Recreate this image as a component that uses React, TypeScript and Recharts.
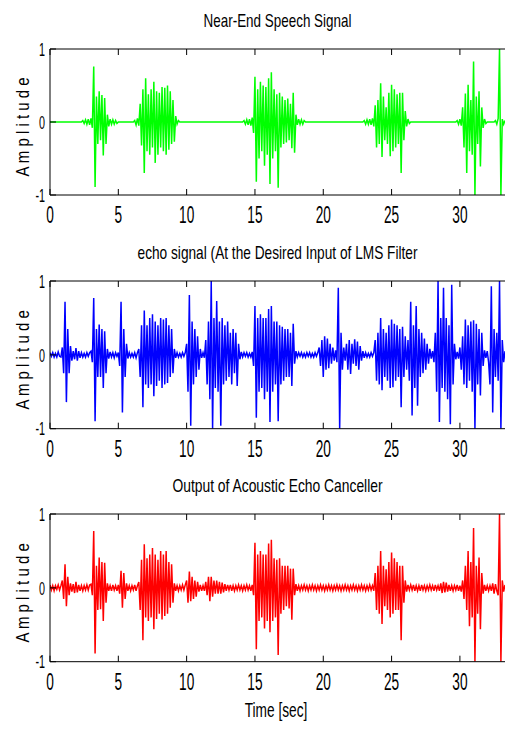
import React from 'react';
import { LineChart, Line, XAxis, YAxis } from 'recharts';

// one sample every 0.1 s, t = 0 .. 33.3 s
const SAMPLE_STEP = 0.1;
const X_TICKS = [0, 5, 10, 15, 20, 25, 30];
const Y_TICKS = [-1, 0, 1];
const X_DOMAIN: [number, number] = [0, 33.3];

const TITLES = [
  'Near-End Speech Signal',
  'echo signal (At the Desired Input of LMS Filter',
  'Output of Acoustic Echo Canceller',
];
const Y_LABEL = 'A m p l i t u d e';
const X_LABEL = 'Time [sec]';

const nearEnd: number[] = [
  0, 0, 0, 0, 0, 0, 0, 0, 0, 0,
  0, 0, 0, 0, 0, 0, 0, 0, 0, 0,
  0, 0, 0, 0, .02, -.02, .03, -.03, .04, -.04,
  .05, -.08, .76, -.89, .35, -.3, .42, -.25, .37, -.46,
  .33, -.3, .1, -.06, .04, -.03, .03, -.03, .02, -.02,
  0, 0, 0, 0, 0, 0, 0, 0, 0, 0,
  0, 0, .02, -.04, .05, -.05, .25, -.32, .45, -.7,
  .6, -.4, .38, -.45, .45, -.35, .55, -.56, .42, -.45,
  .4, -.35, .48, -.4, .47, -.45, .5, -.38, .42, -.3,
  .3, -.27, .08, -.03, .02, 0, 0, 0, 0, 0,
  0, 0, 0, 0, 0, 0, 0, 0, 0, 0,
  0, 0, 0, 0, 0, 0, 0, 0, 0, 0,
  0, 0, 0, 0, 0, 0, 0, 0, 0, 0,
  0, 0, 0, 0, 0, 0, 0, 0, 0, 0,
  0, 0, .02, -.03, .03, -.04, .04, -.05, .06, -.15,
  .62, -.82, .45, -.5, .55, -.4, .5, -.6, .48, -.45,
  .6, -.85, .68, -.5, .45, -.4, .38, -.9, .4, -.35,
  .35, -.3, .3, -.28, .32, -.25, .25, -.36, .4, -.42,
  .1, -.04, .04, -.03, .03, -.03, .02, 0, 0, 0,
  0, 0, 0, 0, 0, 0, 0, 0, 0, 0,
  0, 0, 0, 0, 0, 0, 0, 0, 0, 0,
  0, 0, 0, 0, 0, 0, 0, 0, 0, 0,
  0, 0, 0, 0, 0, 0, 0, 0, 0, 0,
  .02, -.03, .03, -.03, .04, -.04, .05, -.06, .23, -.35,
  .3, -.3, .53, -.48, .35, -.25, .2, -.3, .4, -.47,
  .51, -.4, .45, -.35, .38, -.3, .4, -.7, .4, -.25,
  .15, -.06, .04, -.02, 0, 0, 0, 0, 0, 0,
  0, 0, 0, 0, 0, 0, 0, 0, 0, 0,
  0, 0, 0, 0, 0, 0, 0, 0, 0, 0,
  0, 0, 0, 0, 0, 0, 0, 0, .02, -.03,
  .04, -.05, .2, -.35, .39, -.7, .51, -.4, .3, -.45,
  .83, -1.0, .35, -.3, .42, -.61, .2, -.08, .04, -.02,
  0, 0, 0, 0, 0, 0, .02, -.03, .05, 1.0,
  -1.0, .04, -.03, .02,
];

const echo: number[] = [
  .03, -.02, .03, -.03, .02, -.03, .04, -.02, -.03, .1,
  -.25, .72, -.64, .35, -.25, .12, -.08, .05, -.06, .09,
  -.08, .05, -.04, .03, -.03, .02, -.03, .03, -.02, .03,
  .05, -.1, .77, -.9, .35, -.3, .41, -.3, .35, -.45,
  .32, -.25, .08, -.05, .04, -.03, .03, -.04, .03, -.02,
  .03, -.15, .72, -.78, .35, -.3, .15, -.05, .03, -.03,
  .02, -.03, .03, -.04, .03, .08, -.3, .4, -.71, .6,
  -.4, .4, -.45, .5, -.4, .55, -.56, .45, -.42, .4,
  -.35, .5, -.45, .48, -.4, .5, -.38, .4, -.3, .35,
  -.25, .08, -.04, .03, -.03, .02, -.03, .03, -.02, .03,
  .15, -.5, .81, -.96, .45, -.4, .35, -.3, .25, -.2,
  .08, -.04, .03, -.04, .2, -.4, .45, -.6, 1.0, -1.0,
  .5, -.45, .73, -.5, .45, -.96, .5, -.4, .4, -.35,
  .45, -.3, .3, -.4, .35, -.25, .3, -.42, .15, -.06,
  .04, -.03, .03, -.02, .03, -.03, .02, -.03, .04, -.15,
  .66, -.85, .5, -.5, .55, -.45, .5, -.6, .5, -.5,
  .62, -.91, .66, -.5, .45, -.4, .45, -.9, .4, -.4,
  .38, -.35, .35, -.3, .35, -.3, .3, -.42, .42, -.12,
  .05, -.03, .03, -.02, .03, -.03, .02, -.03, .03, -.02,
  .03, -.03, .02, -.03, .03, -.02, .03, .1, -.15, .2,
  -.3, .25, -.2, .22, -.18, .15, -.12, .1, -.08, .06,
  -.1, .91, -1.0, .3, -.2, .1, -.08, .15, -.2, .2,
  -.26, .15, -.12, .21, -.15, .18, -.2, .12, -.08, .05,
  -.04, .03, -.03, .02, -.03, .03, -.02, .03, .2, -.35,
  .3, -.4, .5, -.48, .35, -.3, .3, -.35, .4, -.45,
  .48, -.44, .42, -.35, .4, -.3, .35, -.71, .38, -.3,
  .25, -.2, .2, -.35, .72, -.82, .4, -.45, .66, -.69,
  .35, -.3, .3, -.25, .22, -.2, .15, -.12, .08, -.05,
  .05, -.1, .3, -.5, 1.0, -.91, .5, -.45, .91, -.5,
  .5, -.6, .4, -.94, .95, -.4, .15, -.06, .04, -.05,
  .1, -.2, .25, -.4, .48, -.45, .4, -.35, .45, -.5,
  .47, -1.0, .42, -.4, .35, -.55, .3, -.15, .06, -.04,
  .05, -.1, -.4, .93, -.78, .35, -.3, .3, -.35, 1.0,
  -1.0, .2, -.1, .05,
];

const aecOutput: number[] = [
  .04, -.03, .03, -.04, .03, -.02, .04, -.03, .03, .1,
  -.15, .32, -.25, .15, -.1, .06, -.05, .05, -.07, .08,
  -.06, .04, -.04, .03, -.04, .03, -.03, .04, -.03, .04,
  .05, -.1, .77, -.89, .3, -.3, .41, -.29, .35, -.45,
  .34, -.2, .06, -.04, .03, -.04, .04, -.03, .03, -.04,
  .04, -.08, .23, -.27, .2, -.15, .06, -.04, .03, -.04,
  .03, -.03, .04, -.04, .03, .08, -.3, .38, -.71, .59,
  -.4, .4, -.45, .45, -.4, .54, -.56, .45, -.42, .38,
  -.35, .5, -.43, .45, -.38, .5, -.35, .35, -.27, .32,
  -.2, .06, -.04, .03, -.04, .03, -.03, .04, -.03, .04,
  .1, -.2, .22, -.18, .15, -.15, .1, -.12, .08, -.05,
  .04, -.04, .03, -.04, .08, -.1, .15, -.18, .15, -.12,
  .1, -.08, .1, -.08, .08, -.08, .07, -.06, .05, -.04,
  .04, -.03, .04, -.04, .03, -.04, .03, -.03, .04, -.03,
  .03, -.04, .03, -.03, .04, -.03, .03, -.04, .04, -.1,
  .61, -.83, .45, -.45, .5, -.4, .45, -.55, .45, -.45,
  .6, -.6, .65, -.45, .4, -.4, .38, -.91, .4, -.35,
  .3, -.3, .3, -.25, .3, -.28, .26, -.43, .26, -.1,
  .05, -.04, .03, -.04, .03, -.03, .04, -.03, .03, -.04,
  .03, -.03, .04, -.03, .03, -.04, .03, -.03, .04, -.03,
  .03, -.04, .03, -.03, .04, -.03, .03, -.04, .03, -.03,
  .04, -.03, .03, -.04, .03, -.03, .04, -.03, .03, -.04,
  .03, -.03, .04, -.03, .03, -.04, .03, -.03, .04, -.03,
  .03, -.04, .03, -.03, .04, -.03, .03, -.04, .2, -.3,
  .3, -.35, .5, -.49, .3, -.25, .25, -.3, .35, -.4,
  .48, -.35, .4, -.3, .35, -.3, .3, -.71, .3, -.2,
  .1, -.05, .04, -.03, .04, -.03, .04, -.04, .03, -.04,
  .03, -.04, .04, -.03, .03, -.04, .03, -.03, .04, -.03,
  .03, -.04, .04, -.03, .03, -.04, .06, -.07, .08, -.06,
  .07, -.05, .04, -.04, .03, -.04, .03, -.03, .04, -.04,
  .03, -.05, .1, -.15, .3, -.3, .5, -.52, .35, -.4,
  .81, -1.0, .3, -.35, .41, -.56, .2, -.08, .04, -.04,
  .03, -.04, .03, -.04, .06, -.08, .05, -.04, -.1, 1.0,
  -1.0, .1, -.05, .04,
];

const SERIES = [nearEnd, echo, aecOutput];
const COLORS = ['#00ff00', '#0000ff', '#ff0000'];

const FONT = "'Liberation Sans', Arial, sans-serif";

function toRows(values: number[]) {
  return values.map((v, i) => ({ t: Number((i * SAMPLE_STEP).toFixed(1)), v }));
}

// panel layout: chart box top/height and plot area top/bottom in page pixels
const PANELS = [
  { top: 0, height: 240, plotTop: 49, plotBottom: 195 },
  { top: 240, height: 240, plotTop: 281, plotBottom: 428.7 },
  { top: 480, height: 250, plotTop: 514, plotBottom: 661.7 },
];
const TITLE_SCALE = [0.723, 0.736, 0.745];
const PLOT_LEFT = 50;
const BOTTOM_AXIS_H = 30;
const TOP_AXIS_H = 10;

function NText(props: any) {
  const { x, y, size, sx, anchor, rotate, children } = props;
  const rot = rotate ? ` rotate(${rotate})` : '';
  return (
    <text
      transform={`translate(${x},${y})${rot} scale(${sx},1)`}
      fontSize={size}
      fontFamily={FONT}
      textAnchor={anchor}
      fill="#000"
    >
      {children}
    </text>
  );
}

const BottomTick = (props: any) => {
  const { x, y, payload } = props;
  return (
    <g>
      <line x1={x} y1={y} x2={x} y2={y - 6} stroke="#000" strokeWidth={1} />
      <NText x={x} y={y + 28} size={24} sx={0.57} anchor="middle">
        {String(payload.value)}
      </NText>
    </g>
  );
};

const TopTick = (props: any) => {
  const { x, y } = props;
  return <line x1={x} y1={y} x2={x} y2={y + 6} stroke="#000" strokeWidth={1} />;
};

const LeftTick = (props: any) => {
  const { x, y, payload } = props;
  return (
    <g>
      <line x1={x} y1={y} x2={x + 6} y2={y} stroke="#000" strokeWidth={1} />
      <NText x={x - 5} y={y + 6.7} size={18.6} sx={0.58} anchor="end">
        {String(payload.value)}
      </NText>
    </g>
  );
};

function Panel({ idx }: { idx: number }) {
  const p = PANELS[idx];
  const rows = toRows(SERIES[idx]);
  const marginTop = p.plotTop - p.top - TOP_AXIS_H;
  const marginBottom = p.top + p.height - p.plotBottom - BOTTOM_AXIS_H;
  return (
    <div style={{ position: 'absolute', left: 0, top: p.top, width: 505, height: p.height }}>
      <LineChart
        width={505}
        height={p.height}
        data={rows}
        margin={{ top: marginTop, right: 0, bottom: marginBottom, left: 0 }}
      >
        <XAxis
          xAxisId="bottom"
          dataKey="t"
          type="number"
          domain={X_DOMAIN}
          allowDataOverflow
          ticks={X_TICKS}
          interval={0}
          height={BOTTOM_AXIS_H}
          tickSize={0}
          tickMargin={0}
          tickLine={false}
          axisLine={{ stroke: '#000', strokeWidth: 1 }}
          tick={<BottomTick />}
        />
        <XAxis
          xAxisId="top"
          orientation="top"
          dataKey="t"
          type="number"
          domain={X_DOMAIN}
          allowDataOverflow
          ticks={X_TICKS}
          interval={0}
          height={TOP_AXIS_H}
          tickSize={0}
          tickMargin={0}
          tickLine={false}
          axisLine={{ stroke: '#000', strokeWidth: 1 }}
          tick={<TopTick />}
        />
        <YAxis
          yAxisId="left"
          type="number"
          domain={[-1, 1]}
          allowDataOverflow
          ticks={Y_TICKS}
          interval={0}
          width={PLOT_LEFT}
          tickSize={0}
          tickMargin={0}
          tickLine={false}
          axisLine={{ stroke: '#000', strokeWidth: 1 }}
          tick={<LeftTick />}
        />
        <Line
          xAxisId="bottom"
          yAxisId="left"
          type="linear"
          dataKey="v"
          stroke={COLORS[idx]}
          strokeWidth={1.5}
          dot={false}
          activeDot={false}
          isAnimationActive={false}
        />
      </LineChart>
    </div>
  );
}

export default function App() {
  const cx = (PLOT_LEFT + 505) / 2;
  return (
    <div style={{ position: 'absolute', left: 0, top: 0, width: 505, height: 730, background: '#fff' }}>
      {PANELS.map((_, i) => (
        <Panel key={i} idx={i} />
      ))}
      <svg width={505} height={730} style={{ position: 'absolute', left: 0, top: 0 }}>
        {PANELS.map((p, i) => (
          <NText key={'t' + i} x={cx} y={p.plotTop - 22} size={18.6} sx={TITLE_SCALE[i]} anchor="middle">
            {TITLES[i]}
          </NText>
        ))}
        {PANELS.map((p, i) => (
          <NText
            key={'y' + i}
            x={29}
            y={(p.plotTop + p.plotBottom) / 2 + 5}
            rotate={-90}
            size={19}
            sx={0.79}
            anchor="middle"
          >
            {Y_LABEL}
          </NText>
        ))}
        <NText x={276} y={716.5} size={19.6} sx={0.7} anchor="middle">
          {X_LABEL}
        </NText>
      </svg>
    </div>
  );
}
